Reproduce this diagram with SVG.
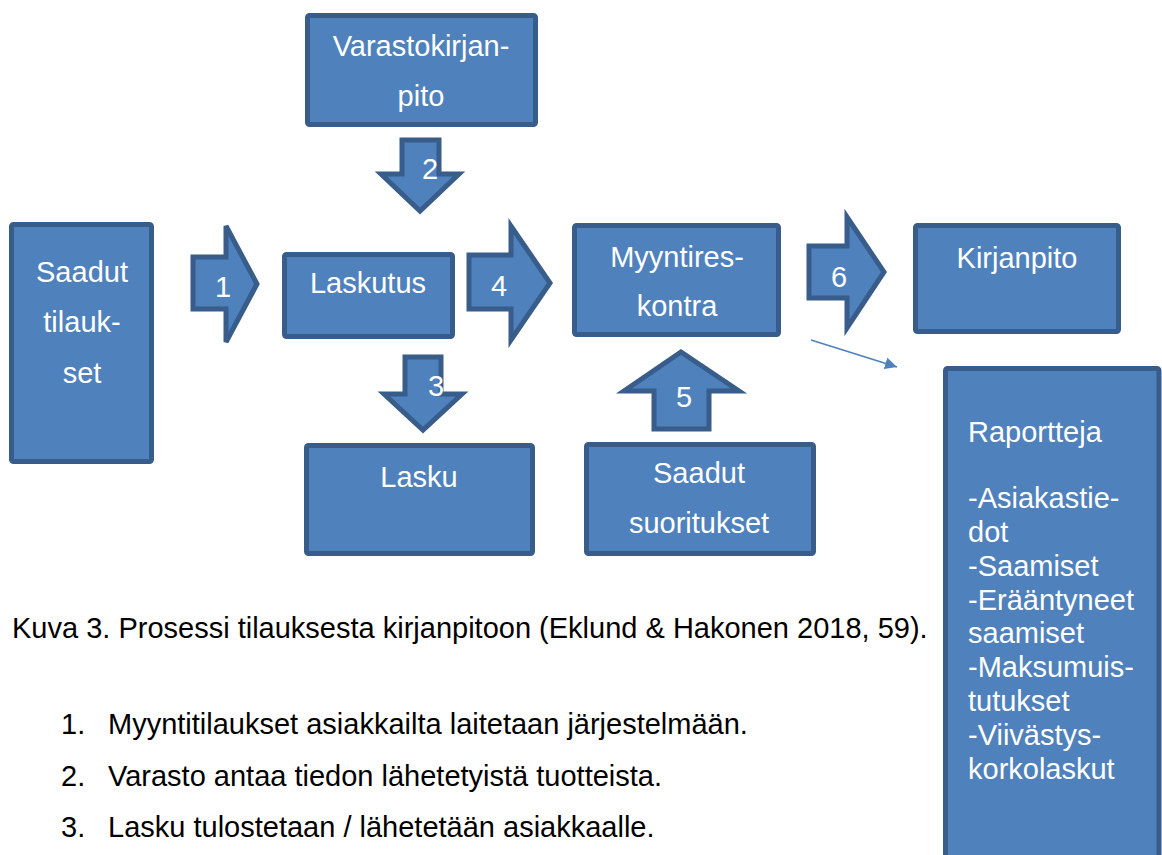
<svg xmlns="http://www.w3.org/2000/svg" width="1162" height="855" viewBox="0 0 1162 855">
<defs>
<style>
.box{fill:#4F81BD;stroke:#385D8A;stroke-width:5;stroke-linejoin:miter}
.t{font-family:"Liberation Sans",Arial,sans-serif;font-size:29px;fill:#FFFFFF}
.c{text-anchor:middle}
.b{font-family:"Liberation Sans",Arial,sans-serif;font-size:29px;fill:#000000}
</style>
<marker id="ah" viewBox="0 0 10 10" refX="10" refY="5" markerWidth="12" markerHeight="12" markerUnits="userSpaceOnUse" orient="auto"><path d="M0,0 L10,5 L0,10 z" fill="#4F81BD"/></marker>
</defs>
<rect width="1162" height="855" fill="#FFFFFF"/>

<g id="varastokirjanpito">
<rect class="box" x="307.5" y="15.5" width="228" height="109" rx="2"/>
<text class="t c" x="421" y="56">Varastokirjan-</text>
<text class="t c" x="421" y="106">pito</text>
</g>

<g id="saadut-tilaukset">
<rect class="box" x="11.5" y="224.5" width="140" height="237" rx="2"/>
<text class="t c" x="82" y="282">Saadut</text>
<text class="t c" x="82" y="332">tilauk-</text>
<text class="t c" x="82" y="383">set</text>
</g>

<g id="laskutus">
<rect class="box" x="284.5" y="254.5" width="168" height="82" rx="2"/>
<text class="t c" x="368" y="293">Laskutus</text>
</g>

<g id="lasku">
<rect class="box" x="306.5" y="445.5" width="226" height="108" rx="2"/>
<text class="t c" x="419" y="487">Lasku</text>
</g>

<g id="myyntireskontra">
<rect class="box" x="574.5" y="225.5" width="204" height="109" rx="2"/>
<text class="t c" x="677" y="267">Myyntires-</text>
<text class="t c" x="677" y="316">kontra</text>
</g>

<g id="kirjanpito">
<rect class="box" x="915.5" y="225.5" width="203" height="106" rx="2"/>
<text class="t c" x="1017" y="268">Kirjanpito</text>
</g>

<g id="saadut-suoritukset">
<rect class="box" x="586.5" y="444.5" width="227" height="109" rx="2"/>
<text class="t c" x="699" y="483">Saadut</text>
<text class="t c" x="699" y="533">suoritukset</text>
</g>

<g id="raportteja">
<rect class="box" x="945.5" y="368.5" width="213.5" height="540" rx="2"/>
<text class="t" x="968" y="442">Raportteja</text>
<text class="t" x="968" y="508">-Asiakastie-</text>
<text class="t" x="968" y="542">dot</text>
<text class="t" x="968" y="576">-Saamiset</text>
<text class="t" x="968" y="610">-Erääntyneet</text>
<text class="t" x="968" y="643">saamiset</text>
<text class="t" x="968" y="677">-Maksumuis-</text>
<text class="t" x="968" y="711">tutukset</text>
<text class="t" x="968" y="745">-Viivästys-</text>
<text class="t" x="968" y="779">korkolaskut</text>
</g>

<g id="connectors">
<g id="arrow-1">
<polygon class="box" points="193,257 226,257 226,226 257,284 226,342 226,309 193,309"/>
<text class="t c" x="223" y="297">1</text>
</g>
<g id="arrow-2">
<polygon class="box" points="402,140 439,140 439,174 459,174 420,211 381,174 402,174"/>
<text class="t c" x="430" y="179">2</text>
</g>
<g id="arrow-3">
<polygon class="box" points="405,357 441,357 441,394 462,394 423,430 384,394 405,394"/>
<text class="t c" x="436" y="396">3</text>
</g>
<g id="arrow-4">
<polygon class="box" points="469,255 511,255 511,226 550,283 511,340 511,309 469,309"/>
<text class="t c" x="499" y="296">4</text>
</g>
<g id="arrow-5">
<polygon class="box" points="654,429 709,429 709,391 739,391 681,352 624,391 654,391"/>
<text class="t c" x="684" y="407">5</text>
</g>
<g id="arrow-6">
<polygon class="box" points="809,246 847,246 847,217 884,272 847,328 847,298 809,298"/>
<text class="t c" x="839" y="287">6</text>
</g>
<line x1="811" y1="340" x2="897" y2="367" stroke="#4F81BD" stroke-width="1.6" marker-end="url(#ah)"/>
</g>

<g id="caption">
<text class="b" x="12" y="638">Kuva 3. Prosessi tilauksesta kirjanpitoon (Eklund &amp; Hakonen 2018, 59).</text>
<text class="b" x="61" y="734">1.</text>
<text class="b" x="108" y="734">Myyntitilaukset asiakkailta laitetaan järjestelmään.</text>
<text class="b" x="61" y="786">2.</text>
<text class="b" x="108" y="786">Varasto antaa tiedon lähetetyistä tuotteista.</text>
<text class="b" x="61" y="837">3.</text>
<text class="b" x="108" y="837">Lasku tulostetaan / lähetetään asiakkaalle.</text>
</g>
</svg>
